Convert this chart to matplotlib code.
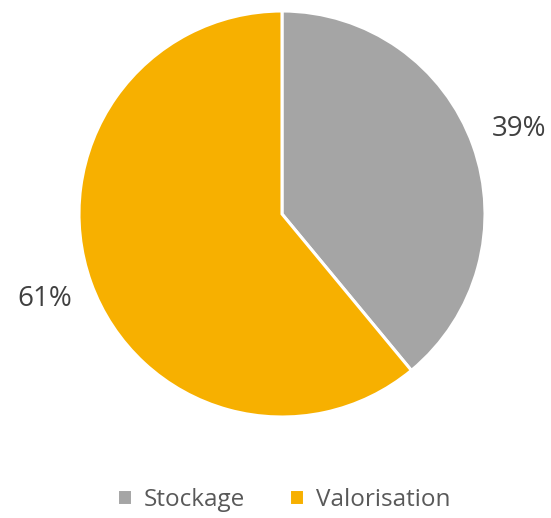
import matplotlib
matplotlib.use("Agg")
import matplotlib.pyplot as plt

labels = ["Stockage", "Valorisation"]
shares = [39, 61]
colors = ["#A5A5A5", "#F7B000"]

plt.rcParams["font.family"] = ["Open Sans", "DejaVu Sans"]

fig = plt.figure(figsize=(5.51, 5.18), dpi=100)
# pie centred at (282, 214) px with a radius of 203 px
ax = fig.add_axes([(282 - 203) / 551, (518 - 214 - 203) / 518, 406 / 551, 406 / 518])
wedges, texts, autotexts = ax.pie(
    shares,
    colors=colors,
    startangle=90,
    counterclock=False,
    radius=1,
    autopct="%d%%",
    pctdistance=1.24,
    wedgeprops=dict(edgecolor="white", linewidth=2.2),
    textprops=dict(color="#404040", fontsize=20),
)
ax.set_xlim(-1, 1)
ax.set_ylim(-1, 1)
ax.set_aspect("equal")
ax.axis("off")

fig.legend(
    wedges, labels,
    loc="lower center", bbox_to_anchor=(0.515, -0.03),
    ncol=2, frameon=False, fontsize=17.5,
    handlelength=0.6, handleheight=0.6, handletextpad=0.5,
    columnspacing=1.8, labelcolor="#595959",
)

fig.savefig("out.png", dpi=100)
